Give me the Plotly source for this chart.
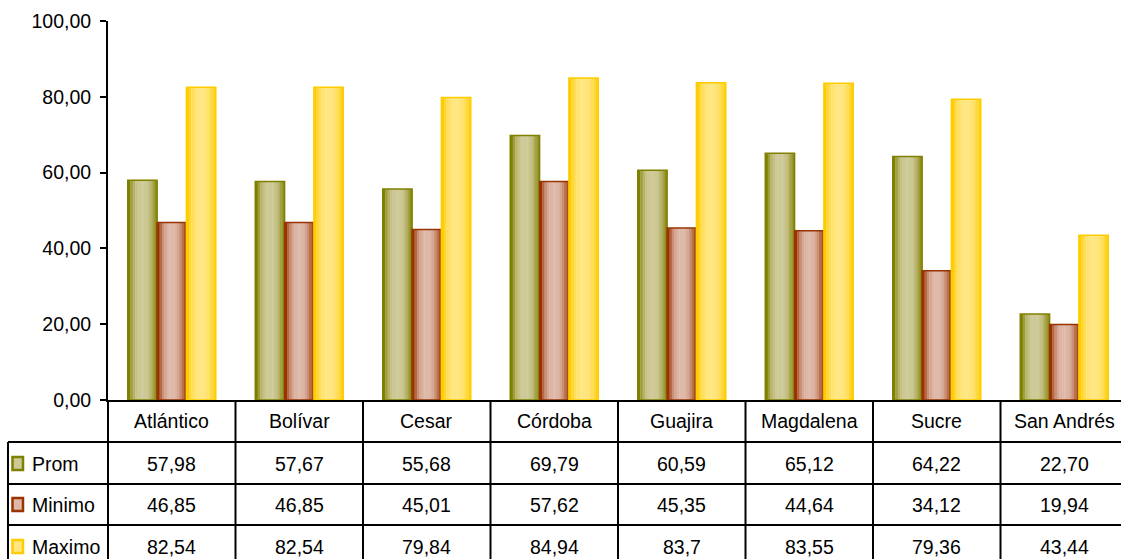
import plotly.graph_objects as go

# ---------------- data ----------------
categories = ["Atlántico", "Bolívar", "Cesar", "Córdoba", "Guajira", "Magdalena", "Sucre", "San Andrés"]
series_names = ["Prom", "Minimo", "Maximo"]
prom = [57.98, 57.67, 55.68, 69.79, 60.59, 65.12, 64.22, 22.70]
minimo = [46.85, 46.85, 45.01, 57.62, 45.35, 44.64, 34.12, 19.94]
maximo = [82.54, 82.54, 79.84, 84.94, 83.7, 83.55, 79.36, 43.44]
prom_labels = ["57,98", "57,67", "55,68", "69,79", "60,59", "65,12", "64,22", "22,70"]
minimo_labels = ["46,85", "46,85", "45,01", "57,62", "45,35", "44,64", "34,12", "19,94"]
maximo_labels = ["82,54", "82,54", "79,84", "84,94", "83,7", "83,55", "79,36", "43,44"]
y_ticks = [0, 20, 40, 60, 80, 100]

# ---------------- styling ----------------
W, H = 1121, 559
ML, MT, MB = 108, 21, 159
PLOT_W = W - ML
PLOT_H = H - MT - MB
COL_PX = 127.5
FONT = "Liberation Sans, Arial, sans-serif"
FS = 19.5

dark = {"Prom": (128, 128, 0), "Minimo": (153, 51, 0), "Maximo": (255, 204, 0)}
light = {"Prom": (206, 202, 152), "Minimo": (222, 184, 168), "Maximo": (255, 230, 128)}
profile = [0.0, 0.4, 0.7, 0.88, 0.97, 1.0, 1.0, 0.97, 0.88, 0.7, 0.45, 0.2]

BAR_W = 0.23
base_offsets = {"Prom": -0.345, "Minimo": -0.115, "Maximo": 0.115}


def mix(a, b, t):
    return "rgb(%d,%d,%d)" % tuple(round(a[i] + (b[i] - a[i]) * t) for i in range(3))


def rgb(c):
    return "rgb(%d,%d,%d)" % c


fig = go.Figure()
values = {"Prom": prom, "Minimo": minimo, "Maximo": maximo}
n = len(profile)
sw = BAR_W / n
for name in series_names:
    for i, t in enumerate(profile):
        fig.add_trace(go.Bar(
            x=categories, y=values[name], name=name, showlegend=False,
            width=sw * 1.15, offset=base_offsets[name] + i * sw,
            marker=dict(color=mix(dark[name], light[name], t), line=dict(width=0)),
            hoverinfo="skip",
        ))
    # outline / top cap
    fig.add_trace(go.Bar(
        x=categories, y=values[name], name=name, showlegend=False,
        width=BAR_W, offset=base_offsets[name],
        marker=dict(color="rgba(0,0,0,0)", line=dict(width=1.5, color=rgb(dark[name]))),
    ))


def py2paper(py):
    return (H - MB - py) / PLOT_H


def px2paper(px):
    return (px - ML) / PLOT_W


shapes = []
annotations = []
line = dict(color="black", width=2)

# horizontal table lines
for py in [442, 484, 525]:
    shapes.append(dict(type="line", xref="paper", yref="paper",
                       x0=px2paper(8), x1=1.0, y0=py2paper(py), y1=py2paper(py), line=line))
# left border of legend column
shapes.append(dict(type="line", xref="paper", yref="paper",
                   x0=px2paper(8), x1=px2paper(8), y0=py2paper(442), y1=py2paper(575), line=line))
# y-axis line continuing into the table
shapes.append(dict(type="line", xref="paper", yref="paper",
                   x0=0, x1=0, y0=0, y1=py2paper(575), line=line))
# column dividers
for i in range(1, len(categories)):
    shapes.append(dict(type="line", xref="x", yref="paper",
                       x0=i - 0.5, x1=i - 0.5, y0=0, y1=py2paper(575), line=line))

tfont = dict(family=FONT, size=FS, color="black")

# header row
for c in categories:
    annotations.append(dict(x=c, y=py2paper(421), xref="x", yref="paper", text=c,
                            xanchor="center", yanchor="middle",
                            showarrow=False, font=tfont))

row_centers = {"Prom": 464, "Minimo": 505, "Maximo": 547}
row_labels = {"Prom": prom_labels, "Minimo": minimo_labels, "Maximo": maximo_labels}
for name in series_names:
    yc = row_centers[name]
    for c, lab in zip(categories, row_labels[name]):
        annotations.append(dict(x=c, y=py2paper(yc), xref="x", yref="paper", text=lab,
                                xanchor="center", yanchor="middle",
                                showarrow=False, font=tfont))
    # legend key
    shapes.append(dict(type="rect", xref="paper", yref="paper",
                       x0=px2paper(12.5), x1=px2paper(23), y0=py2paper(yc - 7), y1=py2paper(yc + 6),
                       fillcolor=rgb(light[name]), line=dict(color=rgb(dark[name]), width=2.5)))
    annotations.append(dict(x=px2paper(30), y=py2paper(yc), xref="paper", yref="paper",
                            text=name, xanchor="left", yanchor="middle", showarrow=False,
                            font=tfont))

fig.update_layout(
    width=W, height=H, autosize=False,
    margin=dict(l=ML, r=0, t=MT, b=MB, pad=0),
    paper_bgcolor="white", plot_bgcolor="white",
    barmode="overlay", separators=",.",
    showlegend=False,
    font=tfont,
    shapes=shapes, annotations=annotations,
    xaxis=dict(type="category", categoryorder="array", categoryarray=categories,
               range=[-0.5, -0.5 + PLOT_W / COL_PX], showticklabels=False,
               showline=True, linecolor="black", linewidth=2, ticks="",
               showgrid=False, zeroline=False, fixedrange=True),
    yaxis=dict(range=[0, 100], tickvals=y_ticks, tickformat=".2f",
               showline=True, linecolor="black", linewidth=2,
               ticks="outside", ticklen=6, tickwidth=2, tickcolor="black",
               showgrid=False, zeroline=False, ticklabelstandoff=5,
               tickfont=tfont),
)

fig.write_html("out.html", config={"displayModeBar": False},
               post_script="document.body.style.margin='0';")
